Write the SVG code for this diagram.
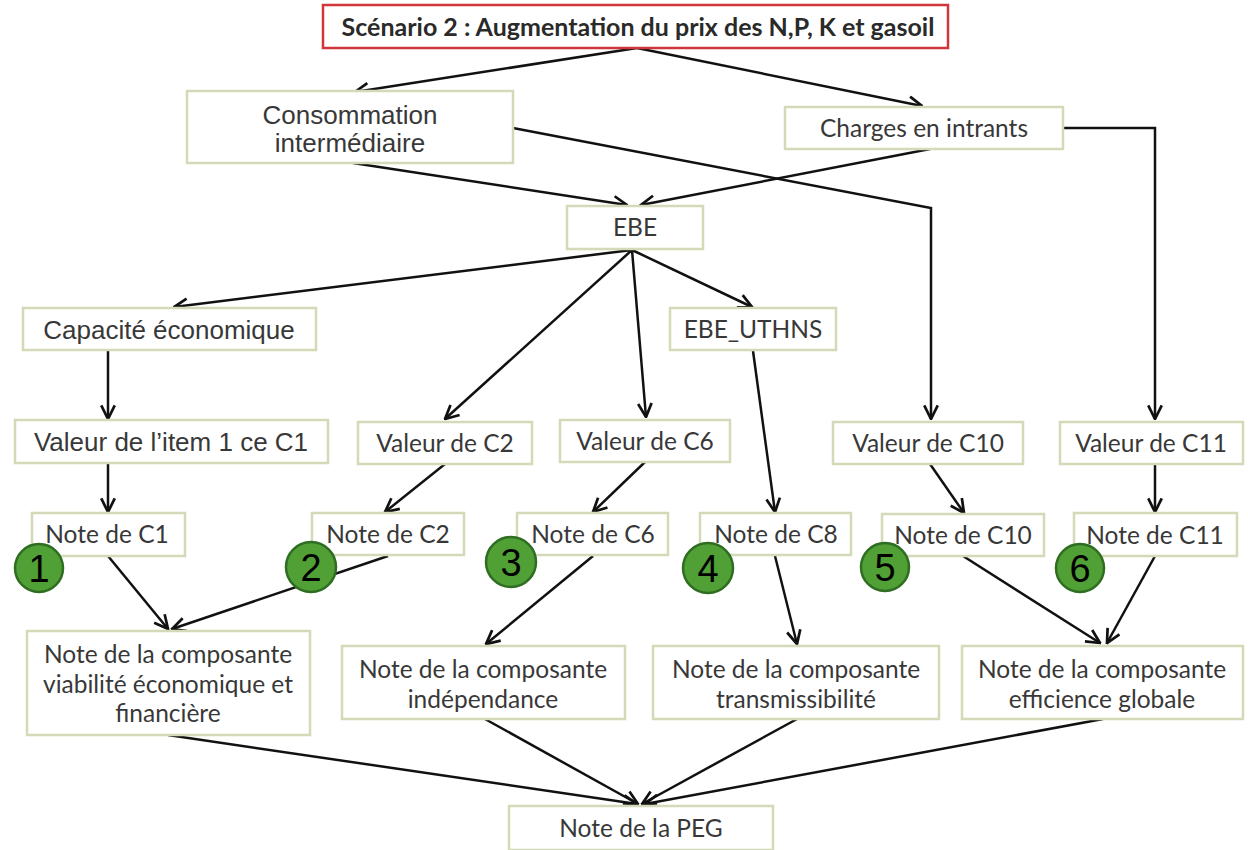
<svg xmlns="http://www.w3.org/2000/svg" width="1248" height="850" viewBox="0 0 1248 850">
<defs>
<marker id="arr" viewBox="0 0 12 12" refX="11" refY="6" markerWidth="6.5" markerHeight="6.5" markerUnits="strokeWidth" orient="auto">
<path d="M1,1 L11,6 L1,11" fill="none" stroke="#111" stroke-width="2"/>
</marker>
<style>
.box{fill:#fff;stroke:#d3dab8;stroke-width:2.5}
.title{fill:#fff;stroke:#d0353a;stroke-width:2.5}
.a{font-family:"Liberation Sans",Arial,sans-serif;font-size:26px;fill:#383838;text-anchor:middle}
.c{font-family:Lato,"Open Sans",sans-serif;font-size:24.5px;fill:#383838;text-anchor:middle}
.t{font-family:Lato,"Open Sans",sans-serif;font-size:25px;font-weight:bold;fill:#2a2a2a;text-anchor:middle}
.ln{fill:none;stroke:#111;stroke-width:2.5;marker-end:url(#arr)}
.badge circle{fill:#50a036;stroke:#2f6e22;stroke-width:2.5}
.badge text{font-family:"Liberation Sans",Arial,sans-serif;font-size:38px;fill:#000;text-anchor:middle}
</style>
</defs>
<g id="connectors">
<path class="ln" d="M637,48 L355,92"/>
<path class="ln" d="M637,48 L922,106"/>
<path class="ln" d="M353,163 L627,205"/>
<path class="ln" d="M930,149 L641,205"/>
<path class="ln" d="M513,128 L931,208 L931,419"/>
<path class="ln" d="M1063,128 L1155,128 L1155,419"/>
<path class="ln" d="M632,250 L174,307"/>
<path class="ln" d="M632,250 L445,419"/>
<path class="ln" d="M632,250 L646,417"/>
<path class="ln" d="M632,250 L752,307"/>
<path class="ln" d="M753,351 L775,512"/>
<path class="ln" d="M108,350 L108,419"/>
<path class="ln" d="M108,463 L108,512"/>
<path class="ln" d="M445,464 L385,512"/>
<path class="ln" d="M645,462 L593,512"/>
<path class="ln" d="M930,464 L964,513"/>
<path class="ln" d="M1155,464 L1155,512"/>
<path class="ln" d="M108,556 L168,629"/>
<path class="ln" d="M388,556 L172,629"/>
<path class="ln" d="M593,556 L486,644"/>
<path class="ln" d="M775,556 L797,644"/>
<path class="ln" d="M963,556 L1100,643"/>
<path class="ln" d="M1155,556 L1107,643"/>
<path class="ln" d="M168,735 L637,804"/>
<path class="ln" d="M485,719 L638,804"/>
<path class="ln" d="M797,719 L642,804"/>
<path class="ln" d="M1103,719 L645,804"/>
</g>
<g id="title"><rect class="title" x="323" y="5" width="625" height="43"/><text class="t" x="638" y="36">Scénario 2 : Augmentation du prix des N,P, K et gasoil</text></g>
<g id="conso"><rect class="box" x="187" y="91" width="326" height="72"/><text class="a" x="350" y="124">Consommation</text><text class="a" x="350" y="152">intermédiaire</text></g>
<g id="charges"><rect class="box" x="785" y="107" width="278" height="42"/><text class="c" x="924" y="137">Charges en intrants</text></g>
<g id="ebe"><rect class="box" x="567" y="206" width="136" height="43"/><text class="c" x="635" y="236">EBE</text></g>
<g id="capacite"><rect class="box" x="23" y="308" width="293" height="42"/><text class="a" x="169" y="339">Capacité économique</text></g>
<g id="ebe_uthns"><rect class="box" x="670" y="308" width="166" height="42"/><text class="c" x="753" y="338">EBE_UTHNS</text></g>
<g id="val_c1"><rect class="box" x="15" y="420" width="313" height="43"/><text class="a" x="171" y="451">Valeur de l’item 1 ce C1</text></g>
<g id="val_c2"><rect class="box" x="358" y="422" width="174" height="42"/><text class="c" x="445" y="452">Valeur de C2</text></g>
<g id="val_c6"><rect class="box" x="560" y="420" width="170" height="42"/><text class="c" x="645" y="450">Valeur de C6</text></g>
<g id="val_c10"><rect class="box" x="833" y="422" width="190" height="42"/><text class="c" x="928" y="452">Valeur de C10</text></g>
<g id="val_c11"><rect class="box" x="1060" y="422" width="183" height="42"/><text class="c" x="1151" y="452">Valeur de C11</text></g>
<g id="note_c1"><rect class="box" x="32" y="513" width="153" height="43"/><text class="c" x="107" y="543">Note de C1</text></g>
<g id="note_c2"><rect class="box" x="312" y="513" width="152" height="42"/><text class="c" x="388" y="543">Note de C2</text></g>
<g id="note_c6"><rect class="box" x="517" y="513" width="151" height="42"/><text class="c" x="593" y="543">Note de C6</text></g>
<g id="note_c8"><rect class="box" x="700" y="513" width="151" height="42"/><text class="c" x="776" y="543">Note de C8</text></g>
<g id="note_c10"><rect class="box" x="882" y="514" width="162" height="42"/><text class="c" x="963" y="544">Note de C10</text></g>
<g id="note_c11"><rect class="box" x="1074" y="513" width="163" height="43"/><text class="c" x="1155" y="544">Note de C11</text></g>
<g id="comp_viab"><rect class="box" x="27" y="631" width="283" height="104"/><text class="c" x="168" y="663">Note de la composante</text><text class="c" x="168" y="693">viabilité économique et</text><text class="c" x="168" y="722">financière</text></g>
<g id="comp_indep"><rect class="box" x="342" y="646" width="283" height="73"/><text class="c" x="483" y="678">Note de la composante</text><text class="c" x="483" y="708">indépendance</text></g>
<g id="comp_trans"><rect class="box" x="653" y="646" width="286" height="73"/><text class="c" x="796" y="678">Note de la composante</text><text class="c" x="796" y="708">transmissibilité</text></g>
<g id="comp_eff"><rect class="box" x="962" y="646" width="281" height="73"/><text class="c" x="1102" y="678">Note de la composante</text><text class="c" x="1102" y="708">efficience globale</text></g>
<g id="peg"><rect class="box" x="509" y="806" width="264" height="44"/><text class="c" x="641" y="837">Note de la PEG</text></g>
<g id="badges">
<g class="badge"><circle cx="39" cy="568" r="24"/><text x="39" y="582">1</text></g>
<g class="badge"><circle cx="311" cy="567" r="25"/><text x="311" y="581">2</text></g>
<g class="badge"><circle cx="511" cy="562" r="25"/><text x="511" y="576">3</text></g>
<g class="badge"><circle cx="708" cy="568" r="25"/><text x="708" y="582">4</text></g>
<g class="badge"><circle cx="885" cy="567" r="24"/><text x="885" y="581">5</text></g>
<g class="badge"><circle cx="1080" cy="568" r="24"/><text x="1080" y="582">6</text></g>
</g>
</svg>
